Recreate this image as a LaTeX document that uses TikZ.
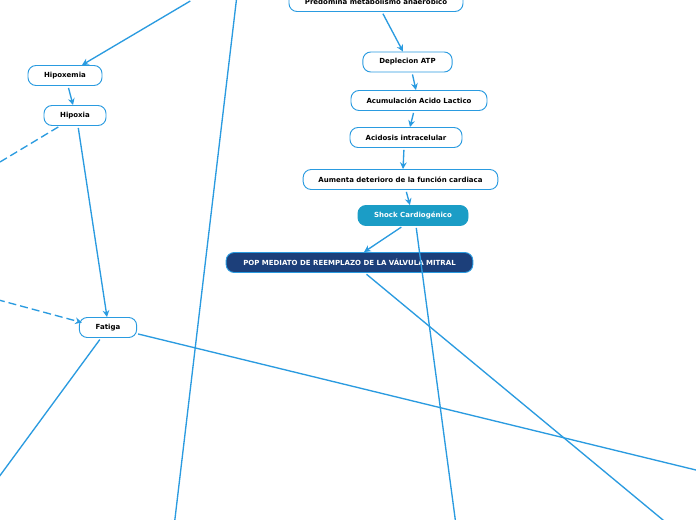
\documentclass[tikz,border=0pt]{standalone}
\usepackage{fontspec}
\usepackage{xcolor}
\usepackage{tikz}
\usetikzlibrary{arrows.meta,positioning,calc}
\newfontfamily\mapfont{DejaVu Sans}
\definecolor{Line}{HTML}{2A9BE0}
\definecolor{Teal}{HTML}{1B9DC6}
\definecolor{Navy}{HTML}{1C3F7A}

\begin{document}
\begin{tikzpicture}[x=0.75pt,y=-0.75pt,
v/.style={rectangle,rounded corners=6pt,draw=Line,line width=0.7pt,fill=white,minimum height=15pt,inner sep=1pt,font=\mapfont\bfseries\fontsize{5.25}{6}\selectfont},
edge/.style={-{Stealth[length=5pt,width=5pt]},line width=1pt,draw=Line,shorten <=1.5pt},
link/.style={line width=1pt,draw=Line,shorten <=1.5pt}]
\useasboundingbox (0,0) rectangle (696,520);
\clip (0,0) rectangle (696,520);
\fill[white] (0,0) rectangle (696,520);
% free ends outside the page
\coordinate (t1) at (192,0);
\coordinate (t2) at (237,-5);
\coordinate (b1) at (174,527);
\coordinate (b2) at (456,525);
\coordinate (b3) at (669,525);
\coordinate (l1) at (-5,165);
\coordinate (l2) at (-5,299);
\coordinate (l3) at (-4,481);
\coordinate (r1) at (700,471);
% nodes
\node[v,minimum width=130.5pt] (pred) at (376,1.5) {Predomina metabolismo anaerobico};
\node[v,minimum width=67pt] (dep) at (407.5,62) {Deplecion ATP};
\node[v,minimum width=102pt] (acu) at (419,100.5) {Acumulación Acido Lactico};
\node[v,minimum width=84pt] (aci) at (406,137.5) {Acidosis intracelular};
\node[v,minimum width=146pt] (aum) at (400.5,179.5) {Aumenta deterioro de la función cardiaca};
\node[v,minimum width=82.5pt,fill=Teal,draw=Teal,text=white] (shk) at (413,215.5) {Shock Cardiogénico};
\node[v,minimum width=185pt,fill=Navy,text=white] (pop) at (349.5,262.5) {POP MEDIATO DE REEMPLAZO DE LA VÁLVULA MITRAL};
\node[v,minimum width=55.5pt] (hxm) at (65,75.5) {Hipoxemia};
\node[v,minimum width=46.5pt] (hpx) at (75,115.5) {Hipoxia};
\node[v,minimum width=43pt] (fat) at (108,327.5) {Fatiga};
% connectors
\draw[edge] ([xshift=4.5pt]pred.south)--([xshift=-3.4pt]dep.north);
\draw[edge] ([xshift=3.4pt]dep.south)--([xshift=-2.3pt]acu.north);
\draw[edge] ([xshift=-3.75pt]acu.south)--([xshift=3pt]aci.north);
\draw[edge] ([xshift=-1.5pt]aci.south)--([xshift=1.9pt]aum.north);
\draw[edge] ([xshift=4pt]aum.south)--([xshift=-2.3pt]shk.north);
\draw[edge] ([xshift=-7.5pt]shk.south)--([xshift=10.9pt]pop.north);
\draw[link] ([xshift=2.25pt]shk.south)--(b2);
\draw[link] ([xshift=11.6pt]pop.south)--(b3);
\draw[edge] (t1)--([xshift=12.75pt]hxm.north);
\draw[edge] (t2)--(b1);
\draw[edge] ([xshift=2.25pt]hxm.south)--([xshift=-1.5pt]hpx.north);
\draw[link,dashed,dash pattern=on 6pt off 3pt] ([xshift=-11.25pt]hpx.south)--(l1);
\draw[edge] ([xshift=2.25pt]hpx.south)--([xshift=-0.75pt]fat.north);
\draw[edge,dash pattern=on 6pt off 3pt] (l2)--([xshift=2.25pt,yshift=3.75pt]fat.west);
\draw[link] ([xshift=-5.25pt]fat.south)--(l3);
\draw[link] ([yshift=-4.5pt,xshift=-0.75pt]fat.east)--(r1);
\end{tikzpicture}
\end{document}
